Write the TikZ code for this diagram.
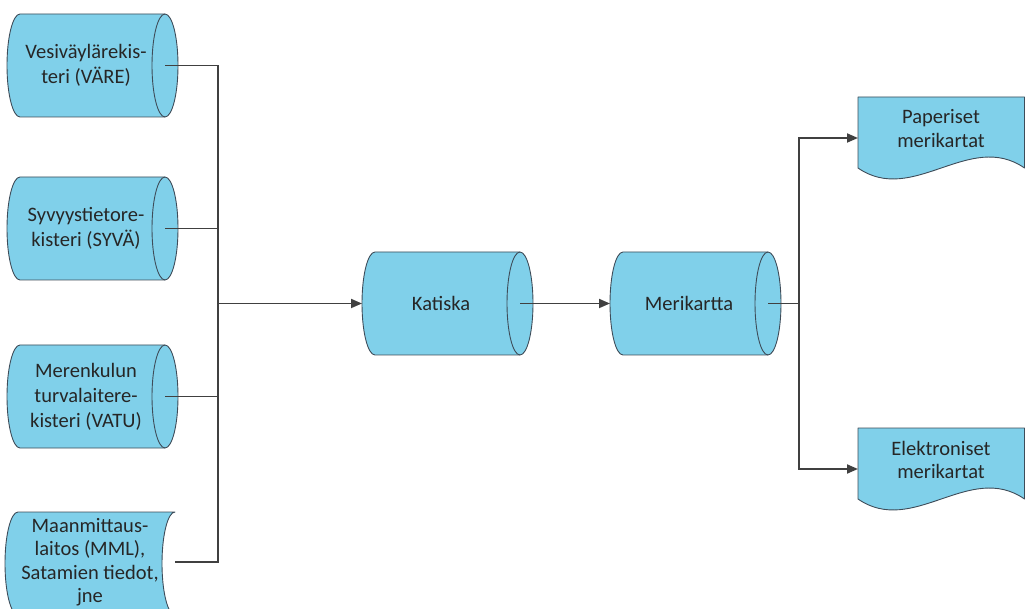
\documentclass[tikz,border=0pt]{standalone}
\usepackage{fontspec}
\setmainfont{Carlito}
\usetikzlibrary{arrows.meta}

\definecolor{shapefill}{RGB}{128,208,234}
\definecolor{shapeline}{RGB}{62,76,89}
\definecolor{wire}{RGB}{64,64,64}
\definecolor{labeltext}{RGB}{38,38,38}

\tikzset{
  store/.style={fill=shapefill, draw=shapeline, line width=0.9pt, line join=round},
  capline/.style={draw=shapeline, line width=0.9pt},
  boxtext/.style={text=labeltext, font=\fontsize{20.5}{25}\selectfont, align=center, inner sep=0pt},
  link/.style={draw=wire, line width=1.8pt},
  arrowlink/.style={link, -{Triangle[length=11pt,width=9pt]}},
}

% horizontal drum: left x, right x, top y, bottom y
\newcommand\drumshape[4]{%
  \pgfmathsetmacro\dL{#1}\pgfmathsetmacro\dR{#2}%
  \pgfmathsetmacro\dT{#3}\pgfmathsetmacro\dB{#4}%
  \pgfmathsetmacro\dM{(#3+#4)/2}\pgfmathsetmacro\dK{0.5523*(#4-#3)/2}%
  \pgfmathsetmacro\dA{13}\pgfmathsetmacro\dQ{0.5523*13}%
  \path[store] (\dL,\dT) -- (\dR,\dT)
    .. controls ({\dR+\dQ},\dT) and ({\dR+\dA},{\dM-\dK}) .. ({\dR+\dA},\dM)
    .. controls ({\dR+\dA},{\dM+\dK}) and ({\dR+\dQ},\dB) .. (\dR,\dB)
    -- (\dL,\dB)
    .. controls ({\dL-\dQ},\dB) and ({\dL-\dA},{\dM+\dK}) .. ({\dL-\dA},\dM)
    .. controls ({\dL-\dA},{\dM-\dK}) and ({\dL-\dQ},\dT) .. (\dL,\dT) -- cycle;
  \path[capline] (\dR,\dT)
    .. controls ({\dR-\dQ},\dT) and ({\dR-\dA},{\dM-\dK}) .. ({\dR-\dA},\dM)
    .. controls ({\dR-\dA},{\dM+\dK}) and ({\dR-\dQ},\dB) .. (\dR,\dB);
}

% stored-data block: convex left side, concave right side
\newcommand\storedshape[4]{%
  \pgfmathsetmacro\dL{#1}\pgfmathsetmacro\dR{#2}%
  \pgfmathsetmacro\dT{#3}\pgfmathsetmacro\dB{#4}%
  \pgfmathsetmacro\dM{(#3+#4)/2}\pgfmathsetmacro\dK{0.5523*(#4-#3)/2}%
  \pgfmathsetmacro\dA{13}\pgfmathsetmacro\dQ{0.5523*13}%
  \path[store] (\dL,\dT) -- (\dR,\dT)
    .. controls ({\dR-\dQ},\dT) and ({\dR-\dA},{\dM-\dK}) .. ({\dR-\dA},\dM)
    .. controls ({\dR-\dA},{\dM+\dK}) and ({\dR-\dQ},\dB) .. (\dR,\dB)
    -- (\dL,\dB)
    .. controls ({\dL-\dQ},\dB) and ({\dL-\dA},{\dM+\dK}) .. ({\dL-\dA},\dM)
    .. controls ({\dL-\dA},{\dM-\dK}) and ({\dL-\dQ},\dT) .. (\dL,\dT) -- cycle;
}

% document sheet with wavy bottom: left x, right x, top y
\newcommand\sheetshape[3]{%
  \pgfmathsetmacro\dL{#1}\pgfmathsetmacro\dR{#2}\pgfmathsetmacro\dT{#3}%
  \path[store] (\dL,\dT) -- (\dR,\dT) -- (\dR,{\dT+71})
    .. controls ({\dR-55},{\dT+33}) and ({\dL+55},{\dT+109}) .. (\dL,{\dT+71}) -- cycle;
}

\begin{document}
\begin{tikzpicture}[x=1pt, y=-1pt]
  \useasboundingbox (0,0) rectangle (1025,609);
  \clip (0,0) rectangle (1025,609);

  % source registers
  \drumshape{20}{165}{14}{117}
  \drumshape{20}{165}{177}{280}
  \drumshape{20}{165}{345}{448}
  \storedshape{18}{175}{512}{615}

  % central stores
  \drumshape{375}{520}{252}{355}
  \drumshape{623}{768}{252}{355}

  % chart products
  \sheetshape{858}{1024.5}{97}
  \sheetshape{858}{1024.5}{428}

  % labels
  \node[boxtext] (vare) at (86,65.5) {Vesiväylärekis-\\teri (VÄRE)};
  \node[boxtext] (syva) at (86,228.5) {Syvyystietore-\\kisteri (SYVÄ)};
  \node[boxtext] (vatu) at (86,396.5) {Merenkulun\\turvalaitere-\\kisteri (VATU)};
  \node[boxtext, font=\fontsize{20.5}{23.5}\selectfont] (mml) at (90,562)
    {Maanmittaus-\\laitos (MML),\\Satamien tiedot,\\jne};
  \node[boxtext] (katiska) at (441,303.5) {Katiska};
  \node[boxtext] (merikartta) at (689,303.5) {Merikartta};
  \node[boxtext, font=\fontsize{20.5}{23.5}\selectfont] (paper) at (941,128.5) {Paperiset\\merikartat};
  \node[boxtext, font=\fontsize{20.5}{23.5}\selectfont] (elec) at (941,460) {Elektroniset\\merikartat};

  % connection points
  \coordinate (vare-out) at (165,65.5);
  \coordinate (syva-out) at (165,228.5);
  \coordinate (vatu-out) at (165,396.5);
  \coordinate (mml-out) at (175,562);
  \coordinate (merge) at (218,303.5);
  \coordinate (katiska-in) at (362,303.5);
  \coordinate (katiska-out) at (520,303.5);
  \coordinate (meri-in) at (610,303.5);
  \coordinate (meri-out) at (768,303.5);
  \coordinate (split) at (799,303.5);
  \coordinate (paper-in) at (858,138);
  \coordinate (elec-in) at (858,469);

  % connectors
  \draw[link] (vare-out) -| (merge);
  \draw[link] (syva-out) -| (merge);
  \draw[link] (vatu-out) -| (merge);
  \draw[link] (mml-out) -| (merge);
  \draw[arrowlink] (merge) -- (katiska-in);
  \draw[arrowlink] (katiska-out) -- (meri-in);
  \draw[link] (meri-out) -- (split);
  \draw[arrowlink] (split) |- (paper-in);
  \draw[arrowlink] (split) |- (elec-in);
\end{tikzpicture}
\end{document}
